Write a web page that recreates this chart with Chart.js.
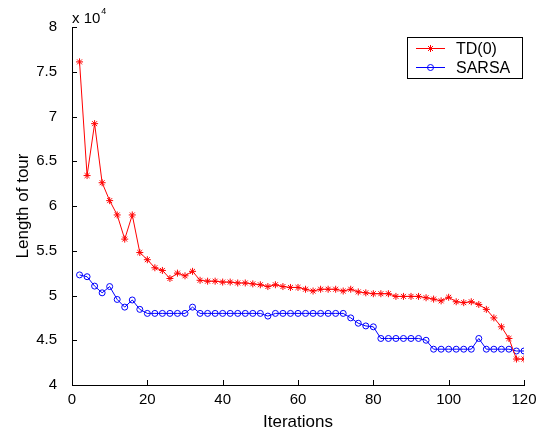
<!DOCTYPE html>
<html>
<head>
<meta charset="utf-8">
<script src="https://cdn.jsdelivr.net/npm/chart.js@4.4.1/dist/chart.umd.min.js"></script>
<style>
  body { margin: 0; background: #fff; }
  canvas { display: block; }
</style>
</head>
<body>
<canvas id="myChart" width="544" height="431"></canvas>
<script>
// values are in units of 10^4
let iterations = [2, 4, 6, 8, 10, 12, 14, 16, 18, 20, 22, 24, 26, 28, 30, 32, 34, 36, 38, 40,
    42, 44, 46, 48, 50, 52, 54, 56, 58, 60, 62, 64, 66, 68, 70, 72, 74, 76, 78, 80,
    82, 84, 86, 88, 90, 92, 94, 96, 98, 100, 102, 104, 106, 108, 110, 112, 114, 116, 118, 120];

let td_values = [7.61, 6.34, 6.92, 6.26, 6.06, 5.90, 5.63, 5.90, 5.48, 5.40,
    5.31, 5.28, 5.19, 5.25, 5.22, 5.27, 5.17, 5.16, 5.16, 5.15,
    5.15, 5.14, 5.14, 5.13, 5.12, 5.10, 5.12, 5.10, 5.09, 5.09,
    5.07, 5.05, 5.07, 5.07, 5.07, 5.05, 5.07, 5.04, 5.03, 5.02,
    5.02, 5.02, 4.99, 4.99, 4.99, 4.99, 4.975, 4.96, 4.94, 4.98,
    4.93, 4.92, 4.93, 4.90, 4.845, 4.75, 4.65, 4.52, 4.29, 4.29];

let sarsa_values = [5.23, 5.21, 5.105, 5.03, 5.10, 4.956, 4.87, 4.95, 4.845, 4.80,
    4.80, 4.80, 4.80, 4.80, 4.80, 4.87, 4.80, 4.80, 4.80, 4.80,
    4.80, 4.80, 4.80, 4.80, 4.80, 4.77, 4.80, 4.80, 4.80, 4.80,
    4.80, 4.80, 4.80, 4.80, 4.80, 4.80, 4.75, 4.69, 4.66, 4.65,
    4.52, 4.52, 4.52, 4.52, 4.52, 4.52, 4.50, 4.40, 4.40, 4.40,
    4.40, 4.40, 4.40, 4.52, 4.40, 4.40, 4.40, 4.40, 4.38, 4.38];

let series_labels = ['TD(0)', 'SARSA'];
let y_multiplier = '4';

const font_family = "'Liberation Sans', Arial, Helvetica, sans-serif";

function to_points(values) {
    let arr = Array();
    values.forEach((v, i) => {
        arr.push({x: iterations[i], y: v});
    });
    return arr;
}

// MATLAB style: ticks inside, exponent label, legend with line + marker
const matlab_plugin = {
    id: 'matlab_plugin',
    afterDraw(chart) {
        const ctx = chart.ctx;
        const area = chart.chartArea;
        const xs = chart.scales.x;
        const ys = chart.scales.y;
        ctx.save();
        ctx.strokeStyle = '#000';
        ctx.lineWidth = 1;
        ctx.beginPath();
        xs.ticks.forEach(t => {
            let px = Math.round(xs.getPixelForValue(t.value)) + 0.5;
            ctx.moveTo(px, area.bottom);
            ctx.lineTo(px, area.bottom - 5);
        });
        ys.ticks.forEach(t => {
            let py = Math.round(ys.getPixelForValue(t.value)) + 0.5;
            ctx.moveTo(area.left, py);
            ctx.lineTo(area.left + 5, py);
        });
        ctx.stroke();

        // x 10^4
        ctx.fillStyle = '#000';
        ctx.textBaseline = 'middle';
        ctx.textAlign = 'left';
        ctx.font = '15px ' + font_family;
        ctx.fillText('x 10', area.left, 19);
        let w = ctx.measureText('x 10').width;
        ctx.font = '9px ' + font_family;
        ctx.fillText(y_multiplier, area.left + w + 1, 12);

        // legend
        const box = {left: 407.5, top: 37.5, width: 115, height: 41};
        ctx.fillStyle = '#fff';
        ctx.fillRect(box.left, box.top, box.width, box.height);
        ctx.strokeStyle = '#000';
        ctx.lineWidth = 1;
        ctx.strokeRect(box.left, box.top, box.width, box.height);
        chart.data.datasets.forEach((ds, i) => {
            let cy = 48.5 + i * 19;
            ctx.strokeStyle = ds.borderColor;
            ctx.lineWidth = 1;
            ctx.beginPath();
            ctx.moveTo(416, cy);
            ctx.lineTo(445, cy);
            ctx.stroke();
            ctx.fillStyle = 'rgba(0,0,0,0)';
            Chart.helpers.drawPoint(ctx, {
                pointStyle: ds.pointStyle,
                radius: ds.pointRadius,
                borderWidth: 1,
                rotation: 0
            }, 430.5, cy);
            ctx.fillStyle = '#000';
            ctx.font = '16px ' + font_family;
            ctx.textBaseline = 'middle';
            ctx.fillText(ds.label, 456, cy + 1);
        });
        ctx.restore();
    }
};

let ctx = document.getElementById('myChart').getContext('2d');
Chart.defaults.color = '#000';
Chart.defaults.font.family = font_family;

let wykres = new Chart(ctx, {
    type: 'line',
    data: {
        datasets: [
            {
                label: series_labels[0],
                data: to_points(td_values),
                borderColor: '#ff0000',
                backgroundColor: '#ff0000',
                borderWidth: 1,
                pointStyle: 'star',
                pointRadius: 3.5,
                pointBorderWidth: 1,
                tension: 0
            },
            {
                label: series_labels[1],
                data: to_points(sarsa_values),
                borderColor: '#0000ff',
                backgroundColor: 'rgba(0,0,0,0)',
                borderWidth: 1,
                pointStyle: 'circle',
                pointRadius: 3,
                pointBorderWidth: 1,
                tension: 0
            }
        ]
    },
    options: {
        responsive: false,
        animation: false,
        layout: {padding: {left: 0, right: 20, top: 27, bottom: 0}},
        plugins: {
            legend: {display: false},
            tooltip: {enabled: false}
        },
        scales: {
            x: {
                type: 'linear',
                min: 0,
                max: 120,
                ticks: {stepSize: 20, padding: -2, font: {size: 15}, maxRotation: 0},
                grid: {display: false},
                border: {display: true, color: '#000', width: 1},
                title: {display: true, text: 'Iterations', font: {size: 17}, padding: {top: 0, bottom: -2}},
                afterFit: function(scale) { scale.height = 46; }
            },
            y: {
                type: 'linear',
                min: 4,
                max: 8,
                ticks: {
                    stepSize: 0.5,
                    padding: 7,
                    font: {size: 15},
                    callback: function(value) { return String(value); }
                },
                grid: {display: false},
                border: {display: true, color: '#000', width: 1},
                title: {display: true, text: 'Length of tour', font: {size: 17}, padding: {top: 13, bottom: 0}},
                afterFit: function(scale) { scale.width = 72; }
            }
        }
    },
    plugins: [matlab_plugin]
});
</script>
</body>
</html>
